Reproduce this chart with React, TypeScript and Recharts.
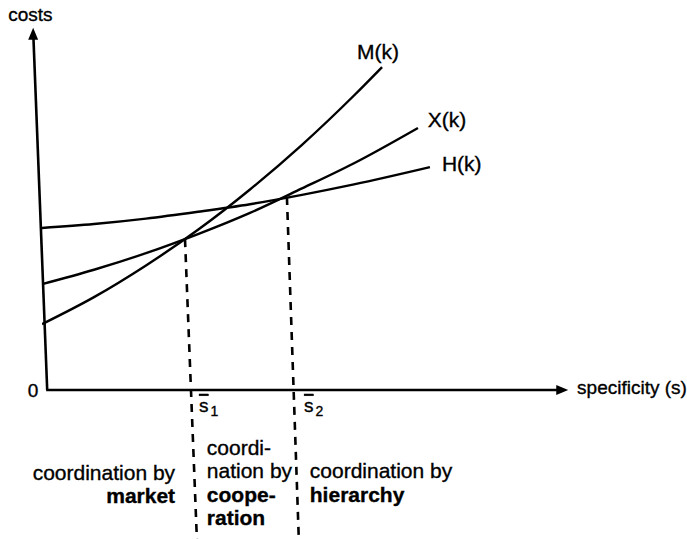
import React from "react";
import { ComposedChart, Line, XAxis, YAxis, ReferenceLine, ReferenceDot } from "recharts";

// specificity grid (x) and cost curves
const marketS = [0, 1, 2, 3, 4, 5, 6, 6.54];
const marketCost = [1.83, 2.58, 3.46, 4.45, 5.57, 6.81, 8.18, 8.97];
const hybridS = [0, 1, 2, 3, 4, 5, 6, 7.23];
const hybridCost = [2.94, 3.34, 3.8, 4.33, 4.92, 5.6, 6.3, 7.28];
const hierarchyS = [0, 1, 2, 3, 4, 5, 6, 7.46];
const hierarchyCost = [4.5, 4.61, 4.76, 4.95, 5.16, 5.42, 5.71, 6.19];

// critical specificities s1, s2 and the cost level where the curves cross
const thresholdS = [2.75, 4.71];
const thresholdCost = [4.19, 5.36];
const thresholdLabels = ["1", "2"];

const curveLabels = ["M(k)", "X(k)", "H(k)"];

const toRows = (xs: number[], ys: number[]) => xs.map((s, i) => ({ s, v: ys[i] }));
const marketData = toRows(marketS, marketCost);
const hybridData = toRows(hybridS, hybridCost);
const hierarchyData = toRows(hierarchyS, hierarchyCost);

const FONT = "'Liberation Sans', Arial, Helvetica, sans-serif";

const textShape = (
  text: React.ReactNode,
  opts: { size?: number; bold?: boolean; anchor?: "start" | "end" | "middle" } = {}
) =>
  (p: any) => (
    <text
      x={p.cx}
      y={p.cy}
      fontFamily={FONT}
      fontSize={opts.size ?? 21}
      fontWeight={opts.bold ? "bold" : "normal"}
      textAnchor={opts.anchor ?? "start"}
      fill="#000"
      stroke="#000"
      strokeWidth={0.35}
    >
      {text}
    </text>
  );

export default function App() {
  return (
    <div style={{ position: "absolute", left: 0, top: 0, background: "#fff" }}>
      <ComposedChart
        width={687}
        height={539}
        margin={{ top: 30, right: 125, bottom: 149, left: 42 }}
      >
        <XAxis type="number" dataKey="s" domain={[0, 10]} allowDataOverflow hide />
        <YAxis type="number" domain={[0, 10]} allowDataOverflow hide />

        {/* axes */}
        <ReferenceLine
          segment={[{ x: 0.1, y: 0 }, { x: -0.165, y: 9.8 }]}
          stroke="#000"
          strokeWidth={2.6}
          ifOverflow="visible"
        />
        <ReferenceLine
          segment={[{ x: 0.08, y: 0 }, { x: 9.95, y: 0 }]}
          stroke="#000"
          strokeWidth={2.6}
          ifOverflow="visible"
        />
        <ReferenceDot
          x={-0.17}
          y={10.06}
          ifOverflow="visible"
          shape={(p: any) => (
            <polygon
              points={`${p.cx},${p.cy} ${p.cx - 5},${p.cy + 12} ${p.cx + 5},${p.cy + 12}`}
              fill="#000"
            />
          )}
        />
        <ReferenceDot
          x={10.12}
          y={0}
          ifOverflow="visible"
          shape={(p: any) => (
            <polygon
              points={`${p.cx},${p.cy} ${p.cx - 12},${p.cy - 5} ${p.cx - 12},${p.cy + 5}`}
              fill="#000"
            />
          )}
        />

        {/* dashed thresholds */}
        {thresholdS.map((s, i) => (
          <ReferenceLine
            key={"t" + i}
            segment={[{ x: s, y: thresholdCost[i] }, { x: s + 0.23, y: -4.2 }]}
            stroke="#000"
            strokeWidth={2.6}
            strokeDasharray="8 7"
            ifOverflow="visible"
          />
        ))}

        {/* curves */}
        <Line data={hierarchyData} dataKey="v" type="monotone" stroke="#000" strokeWidth={2.4} dot={false} isAnimationActive={false} />
        <Line data={hybridData} dataKey="v" type="monotone" stroke="#000" strokeWidth={2.4} dot={false} isAnimationActive={false} />
        <Line data={marketData} dataKey="v" type="monotone" stroke="#000" strokeWidth={2.4} dot={false} isAnimationActive={false} />

        {/* curve labels */}
        <ReferenceDot x={6.06} y={9.19} ifOverflow="visible" shape={textShape(curveLabels[0])} />
        <ReferenceDot x={7.42} y={7.31} ifOverflow="visible" shape={textShape(curveLabels[1])} />
        <ReferenceDot x={7.69} y={6.08} ifOverflow="visible" shape={textShape(curveLabels[2])} />

        {/* axis labels */}
        <ReferenceDot x={-0.65} y={10.25} ifOverflow="visible" shape={textShape("costs", { size: 19 })} />
        <ReferenceDot x={-0.17} y={-0.19} ifOverflow="visible" shape={textShape("0", { size: 19, anchor: "middle" })} />
        <ReferenceDot x={10.29} y={-0.12} ifOverflow="visible" shape={textShape("specificity (s)", { size: 19 })} />

        {/* s-bar labels */}
        {thresholdS.map((s, i) => (
          <ReferenceDot
            key={"sl" + i}
            x={s + 0.27 + (i === 1 ? 0.06 : 0)}
            y={-0.61}
            ifOverflow="visible"
            shape={textShape(
              <>
                <tspan textDecoration="overline">s</tspan>
                <tspan fontSize={14} dx={2} dy={4}>{thresholdLabels[i]}</tspan>
              </>,
              { size: 19 }
            )}
          />
        ))}

        {/* regime labels */}
        <ReferenceDot x={2.56} y={-2.5} ifOverflow="visible" shape={textShape("coordination by", { anchor: "end" })} />
        <ReferenceDot x={2.56} y={-3.14} ifOverflow="visible" shape={textShape("market", { anchor: "end", bold: true })} />

        <ReferenceDot x={3.17} y={-1.81} ifOverflow="visible" shape={textShape("coordi-")} />
        <ReferenceDot x={3.17} y={-2.45} ifOverflow="visible" shape={textShape("nation by")} />
        <ReferenceDot x={3.17} y={-3.11} ifOverflow="visible" shape={textShape("coope-", { bold: true })} />
        <ReferenceDot x={3.17} y={-3.75} ifOverflow="visible" shape={textShape("ration", { bold: true })} />

        <ReferenceDot x={5.15} y={-2.45} ifOverflow="visible" shape={textShape("coordination by")} />
        <ReferenceDot x={5.15} y={-3.11} ifOverflow="visible" shape={textShape("hierarchy", { bold: true })} />
      </ComposedChart>
    </div>
  );
}
